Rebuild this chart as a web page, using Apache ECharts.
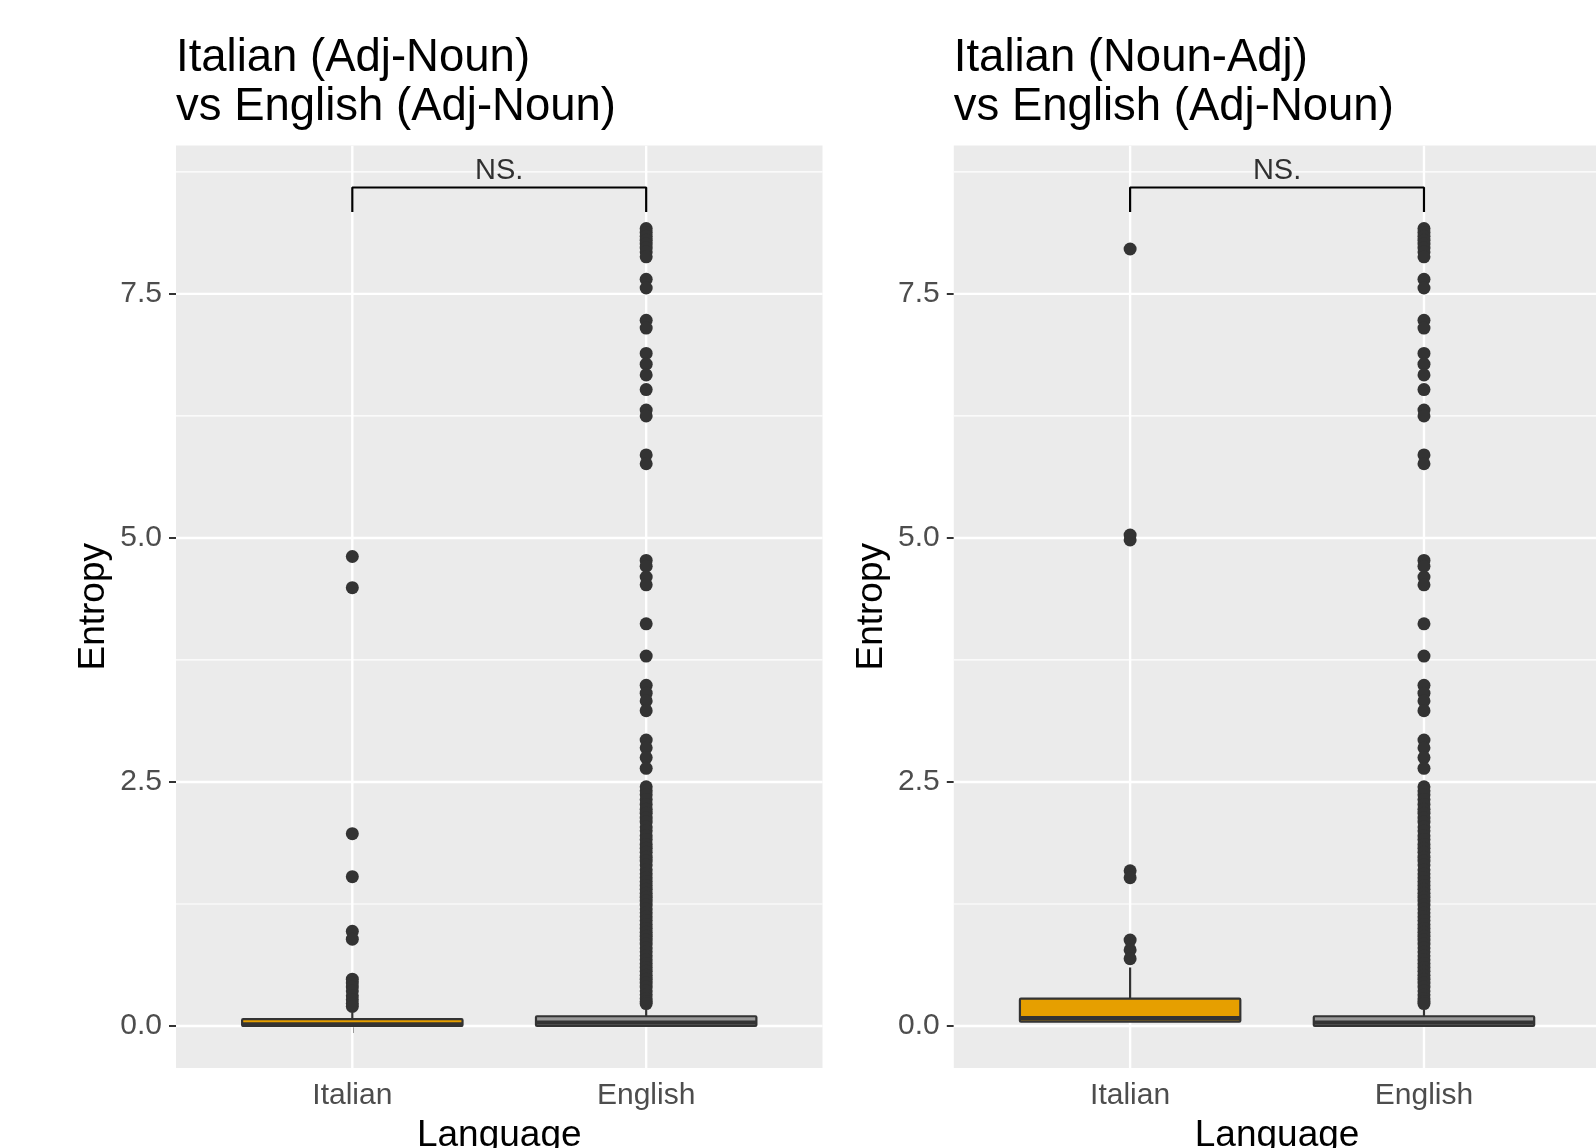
<!DOCTYPE html>
<html><head><meta charset="utf-8">
<script src="https://cdn.jsdelivr.net/npm/echarts@6/dist/echarts.min.js"></script>
<style>html,body{margin:0;padding:0;background:#fff}#c{width:1596px;height:1148px}</style>
</head><body><div id="c"></div>
<script>
// ---------- data ----------
const languages = ['Italian', 'English'];
const yTicks = [0, 2.5, 5.0, 7.5];
const yMinor = [1.25, 3.75, 6.25, 8.75];
const titles = ['Italian (Adj-Noun)\nvs English (Adj-Noun)', 'Italian (Noun-Adj)\nvs English (Adj-Noun)'];
// box stats: [lower whisker, Q1, median, Q3, upper whisker]
const leftItalianBox = [0, 0, 0.015, 0.07, 0.14];
const leftEnglishBox = [0, 0, 0.035, 0.10, 0.17];
const rightItalianBox = [0, 0.045, 0.08, 0.28, 0.60];
const rightEnglishBox = [0, 0, 0.035, 0.10, 0.17];
const leftItalianOutliers = [4.81, 4.49, 1.97, 1.53, 0.97, 0.89, 0.48, 0.44, 0.40, 0.36, 0.31, 0.27, 0.23, 0.20];
const rightItalianOutliers = [7.96, 5.03, 4.98, 1.59, 1.52, 0.88, 0.78, 0.69];
const englishOutliers = [8.17, 8.13, 8.09, 8.05, 8.01, 7.97, 7.93, 7.88, 7.65, 7.56, 7.23, 7.15,
  6.89, 6.78, 6.67, 6.52, 6.31, 6.25, 5.85, 5.76, 4.77, 4.71, 4.60, 4.52, 4.12, 3.79,
  3.49, 3.41, 3.33, 3.23, 2.93, 2.85, 2.75, 2.64, 2.45, 2.41, 2.37, 2.32, 2.27, 2.22,
  2.18, 2.13, 2.09, 2.04, 2.00, 1.95, 1.91, 1.86, 1.82, 1.78, 1.73, 1.69, 1.65, 1.60,
  1.56, 1.52, 1.48, 1.44, 1.40, 1.36, 1.32, 1.28, 1.24, 1.20, 1.16, 1.12, 1.08, 1.04,
  1.00, 0.96, 0.92, 0.88, 0.84, 0.80, 0.76, 0.72, 0.68, 0.64, 0.60, 0.56, 0.52, 0.48,
  0.44, 0.40, 0.36, 0.32, 0.28, 0.25, 0.23];
const bracket = [[1, 8.34], [1, 8.59], [2, 8.59], [2, 8.34]];
const sigLabel = 'NS.';
const sigLabelPos = [1.5, 8.76];

// ---------- styling / layout ----------
const FONT = "'Liberation Sans', Arial, Helvetica, sans-serif";
const fills = ['#E69F00', '#999999'];
const dark = '#333333';
const gridTop = 145.5, gridH = 922.5;
const fullW = 646.5;            // full panel width (the right one is cut by the page edge)
const gridLeft = [176, 953.8];
const gridW = [fullW, 1596 - 953.8];
const xMin = 0.4, xFullMax = 2.6;
const xMax = gridW.map(w => xMin + (xFullMax - xMin) * w / fullW);

const panels = [
  {boxes: [leftItalianBox, leftEnglishBox], outliers: [leftItalianOutliers, englishOutliers]},
  {boxes: [rightItalianBox, rightEnglishBox], outliers: [rightItalianOutliers, englishOutliers]}
];

const grids = [], xAxes = [], yAxes = [], series = [], graphics = [];

panels.forEach((p, i) => {
  grids.push({left: gridLeft[i], top: gridTop, width: gridW[i], height: gridH,
    show: true, backgroundColor: '#EBEBEB', borderWidth: 0, containLabel: false});
  xAxes.push({gridIndex: i, type: 'value', min: xMin, max: xMax[i],
    axisLine: {show: false}, splitLine: {show: false},
    axisTick: {show: true, customValues: [1, 2], length: 7, lineStyle: {color: dark, width: 2}},
    axisLabel: {customValues: [1, 2], formatter: v => languages[Math.round(v) - 1],
      fontSize: 30, color: '#4D4D4D', margin: 13, fontFamily: FONT}});
  yAxes.push({gridIndex: i, type: 'value', min: -0.43, max: 9.02,
    axisLine: {show: false}, splitLine: {show: false},
    axisTick: {show: true, customValues: yTicks, length: 7, lineStyle: {color: dark, width: 2}},
    axisLabel: {customValues: yTicks, formatter: v => v.toFixed(1),
      fontSize: 30, color: '#4D4D4D', margin: 14, fontFamily: FONT}});

  // grid lines
  const gl = [];
  yTicks.forEach(v => gl.push([0, v]));
  yMinor.forEach(v => gl.push([1, v]));
  [1, 2].forEach(v => gl.push([2, v]));
  series.push({type: 'custom', xAxisIndex: i, yAxisIndex: i, z: 1, silent: true, clip: true,
    data: gl,
    renderItem: (params, api) => {
      const cs = params.coordSys;
      const t = api.value(0), v = api.value(1);
      if (t === 2) {
        const x = api.coord([v, 0])[0];
        return {type: 'line', shape: {x1: x, y1: cs.y, x2: x, y2: cs.y + cs.height},
          style: {stroke: '#FFFFFF', lineWidth: 2.4}};
      }
      const y = api.coord([1, v])[1];
      return {type: 'line', shape: {x1: cs.x, y1: y, x2: cs.x + cs.width, y2: y},
        style: {stroke: '#FFFFFF', lineWidth: t === 0 ? 2.4 : 1.2}};
    }});

  // boxes
  series.push({type: 'custom', xAxisIndex: i, yAxisIndex: i, z: 3, silent: true,
    data: p.boxes.map((b, k) => [k + 1].concat(b).concat([k])),
    renderItem: (params, api) => {
      const x = api.value(0);
      const lo = api.coord([x, api.value(1)]);
      const q1 = api.coord([x, api.value(2)]);
      const md = api.coord([x, api.value(3)]);
      const q3 = api.coord([x, api.value(4)]);
      const hi = api.coord([x, api.value(5)]);
      const hw = api.size([0.375, 0])[0];
      const cx = lo[0];
      const fill = fills[api.value(6)];
      const kids = [];
      if (q1[1] - lo[1] > 0.5) kids.push({type: 'line', shape: {x1: cx, y1: lo[1], x2: cx, y2: q1[1]}, style: {stroke: dark, lineWidth: 2.2}});
      kids.push({type: 'line', shape: {x1: cx, y1: q3[1], x2: cx, y2: hi[1]}, style: {stroke: dark, lineWidth: 2.2}});
      kids.push({type: 'rect', shape: {x: cx - hw, y: q3[1], width: 2 * hw, height: q1[1] - q3[1], r: 1},
          style: {fill: fill, stroke: dark, lineWidth: 2.2}});
      kids.push({type: 'line', shape: {x1: cx - hw, y1: md[1], x2: cx + hw, y2: md[1]}, style: {stroke: dark, lineWidth: 4.4}});
      return {type: 'group', children: kids};
    }});

  // outliers
  const pts = [];
  p.outliers.forEach((arr, k) => arr.forEach(v => pts.push([k + 1, v])));
  series.push({type: 'scatter', xAxisIndex: i, yAxisIndex: i, z: 4, silent: true,
    symbol: 'circle', symbolSize: 13, itemStyle: {color: dark, opacity: 1}, data: pts});

  // bracket
  series.push({type: 'line', xAxisIndex: i, yAxisIndex: i, z: 5, silent: true,
    symbol: 'none', lineStyle: {color: '#000000', width: 2.2}, data: bracket});
  series.push({type: 'scatter', xAxisIndex: i, yAxisIndex: i, z: 5, silent: true,
    symbolSize: 0, data: [sigLabelPos],
    label: {show: true, position: 'inside', formatter: sigLabel, fontSize: 29,
      color: '#000000', fontFamily: FONT}});

  // titles & axis names
  graphics.push({type: 'text', x: gridLeft[i], y: 34, silent: true,
    style: {text: titles[i], fontSize: 45.5, lineHeight: 49, fontFamily: FONT, fill: '#000000',
      align: 'left', verticalAlign: 'top', textAlign: 'left', textVerticalAlign: 'top'}});
  graphics.push({type: 'text', x: gridLeft[i] + fullW / 2, y: 1117, silent: true,
    style: {text: 'Language', fontSize: 37, lineHeight: 37, fontFamily: FONT, fill: '#000000',
      align: 'center', verticalAlign: 'top', textAlign: 'center', textVerticalAlign: 'top'}});
  graphics.push({type: 'text', x: gridLeft[i] - 82.5, y: gridTop + gridH / 2, rotation: Math.PI / 2, silent: true,
    style: {text: 'Entropy', fontSize: 37, lineHeight: 37, fontFamily: FONT, fill: '#000000',
      align: 'center', verticalAlign: 'middle', textAlign: 'center', textVerticalAlign: 'middle'}});
});

const chart = echarts.init(document.getElementById('c'), null, {renderer: 'canvas'});
chart.setOption({
  animation: false,
  backgroundColor: '#FFFFFF',
  grid: grids, xAxis: xAxes, yAxis: yAxes, series: series, graphic: graphics
});
</script></body></html>
